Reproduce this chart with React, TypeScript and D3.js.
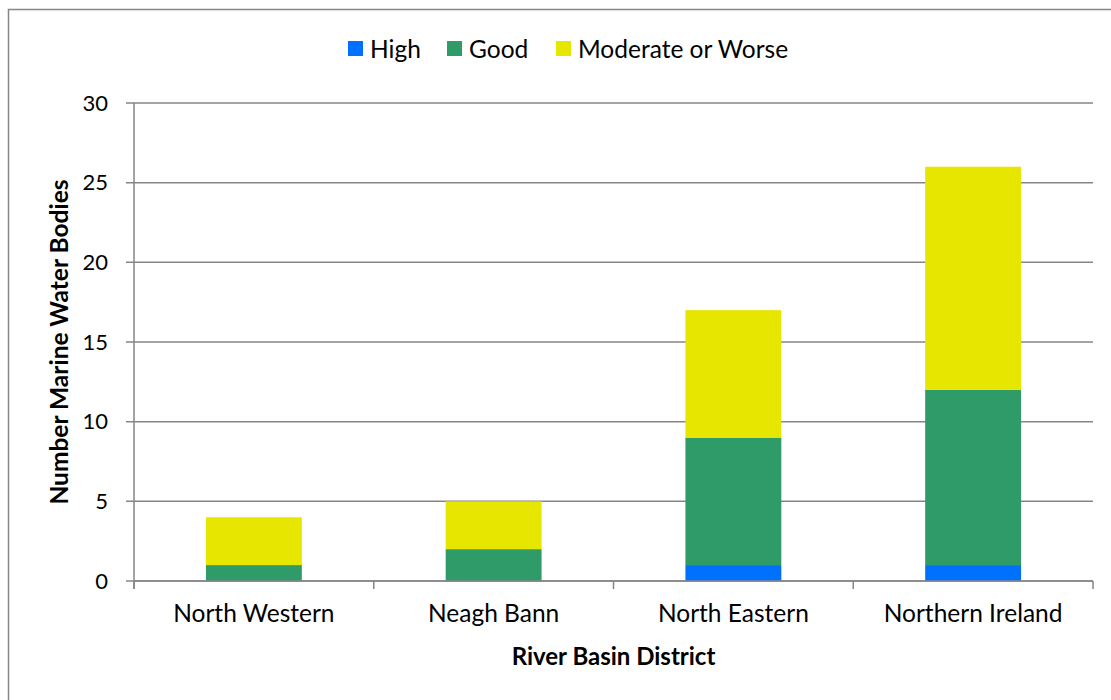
import React, { useEffect, useRef } from "react";
import * as d3 from "d3";

const districts = ["North Western", "Neagh Bann", "North Eastern", "Northern Ireland"];
const seriesNames = ["High", "Good", "Moderate or Worse"];
const highValues = [0, 0, 1, 1];
const goodValues = [1, 2, 8, 11];
const moderateValues = [3, 3, 8, 14];
const yTicks = [0, 5, 10, 15, 20, 25, 30];
const colors = ["#0070ff", "#2e9b69", "#e6e600"];

const App: React.FC = () => {
  const svgRef = useRef<SVGSVGElement>(null);

  useEffect(() => {
    if (!svgRef.current) return;
    const width = 1111;
    const height = 700;
    const margin = { top: 103, right: 18, bottom: 119, left: 134 };
    const font = "Lato, 'Open Sans', sans-serif";
    const grey = "#868686";

    const svg = d3.select(svgRef.current);
    svg.selectAll("*").remove();
    svg.attr("width", width).attr("height", height).attr("viewBox", `0 0 ${width} ${height}`);

    // outer frame
    svg
      .append("rect")
      .attr("x", 8.5)
      .attr("y", 9.5)
      .attr("width", width + 20)
      .attr("height", height + 20)
      .attr("fill", "white")
      .attr("stroke", grey)
      .attr("stroke-width", 1.5);

    const x = d3
      .scaleBand()
      .domain(districts)
      .range([margin.left, width - margin.right])
      .paddingInner(0.6)
      .paddingOuter(0.3);

    const y = d3
      .scaleLinear()
      .domain([0, 30])
      .range([height - margin.bottom, margin.top]);

    // gridlines + y ticks
    svg
      .append("g")
      .selectAll("line")
      .data(yTicks)
      .join("line")
      .attr("x1", margin.left - 8)
      .attr("x2", width - margin.right)
      .attr("y1", (d) => y(d))
      .attr("y2", (d) => y(d))
      .attr("stroke", grey)
      .attr("stroke-width", 1.5);

    svg
      .append("g")
      .selectAll("text")
      .data(yTicks)
      .join("text")
      .attr("x", margin.left - 26)
      .attr("y", (d) => y(d))
      .attr("dy", "0.35em")
      .attr("text-anchor", "end")
      .attr("font-family", font)
      .attr("font-size", 22)
      .attr("fill", "#000")
      .text((d) => d);

    // stacked data
    const rows = districts.map((name, i) => ({
      name,
      High: highValues[i],
      Good: goodValues[i],
      "Moderate or Worse": moderateValues[i],
    }));
    const stack = d3.stack<any>().keys(seriesNames)(rows);

    svg
      .append("g")
      .selectAll("g")
      .data(stack)
      .join("g")
      .attr("fill", (_, i) => colors[i])
      .selectAll("rect")
      .data((s) => s)
      .join("rect")
      .attr("x", (d) => x(d.data.name) || 0)
      .attr("width", x.bandwidth())
      .attr("y", (d) => y(d[1]))
      .attr("height", (d) => y(d[0]) - y(d[1]));

    // y axis line
    svg
      .append("line")
      .attr("x1", margin.left)
      .attr("x2", margin.left)
      .attr("y1", y(30))
      .attr("y2", y(0) + 8)
      .attr("stroke", grey)
      .attr("stroke-width", 1.5);

    // x axis line and category boundary ticks
    svg
      .append("line")
      .attr("x1", margin.left)
      .attr("x2", width - margin.right)
      .attr("y1", y(0))
      .attr("y2", y(0))
      .attr("stroke", grey)
      .attr("stroke-width", 1.5);

    const step = x.step();
    const bounds = d3.range(districts.length + 1).map((i) => margin.left + i * step);
    svg
      .append("g")
      .selectAll("line")
      .data(bounds)
      .join("line")
      .attr("x1", (d) => d)
      .attr("x2", (d) => d)
      .attr("y1", y(0))
      .attr("y2", y(0) + 8)
      .attr("stroke", grey)
      .attr("stroke-width", 1.5);

    svg
      .append("g")
      .selectAll("text")
      .data(districts)
      .join("text")
      .attr("x", (d) => (x(d) || 0) + x.bandwidth() / 2)
      .attr("y", y(0) + 41)
      .attr("text-anchor", "middle")
      .attr("font-family", font)
      .attr("font-size", 24.5)
      .attr("fill", "#000")
      .text((d) => d);

    // axis titles
    svg
      .append("text")
      .attr("x", (margin.left + width - margin.right) / 2)
      .attr("y", 665)
      .attr("text-anchor", "middle")
      .attr("font-family", font)
      .attr("font-size", 24)
      .attr("font-weight", "bold")
      .attr("fill", "#000")
      .text("River Basin District");

    svg
      .append("text")
      .attr("transform", `translate(68, ${(y(0) + y(30)) / 2}) rotate(-90)`)
      .attr("text-anchor", "middle")
      .attr("font-family", font)
      .attr("font-size", 24.5)
      .attr("font-weight", "bold")
      .attr("fill", "#000")
      .text("Number Marine Water Bodies");

    // legend
    const legendX = [348, 447, 556];
    const legend = svg
      .append("g")
      .selectAll("g")
      .data(seriesNames)
      .join("g")
      .attr("transform", (_, i) => `translate(${legendX[i]}, 41)`);
    legend
      .append("rect")
      .attr("width", 15)
      .attr("height", 15)
      .attr("fill", (_, i) => colors[i]);
    legend
      .append("text")
      .attr("x", 22)
      .attr("y", 8)
      .attr("dy", "0.35em")
      .attr("font-family", font)
      .attr("font-size", 24.5)
      .attr("fill", "#000")
      .text((d) => d);
  }, []);

  return <svg ref={svgRef} style={{ position: "absolute", left: 0, top: 0 }} />;
};

export default App;
